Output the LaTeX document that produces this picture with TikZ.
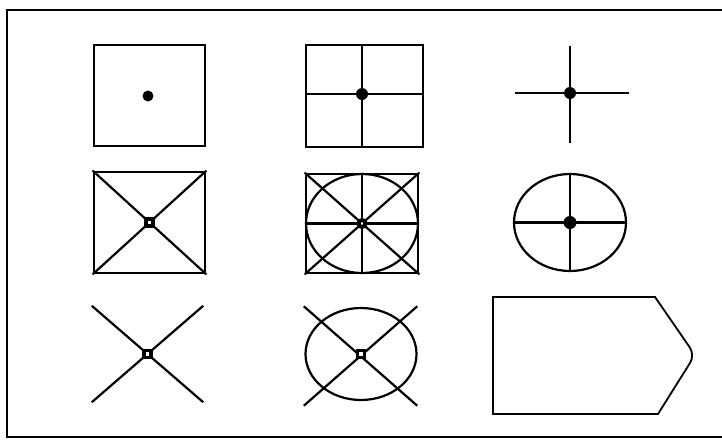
\documentclass[tikz,border=0pt]{standalone}
\usetikzlibrary{shapes.geometric}

\tikzset{
  symbox/.style={draw, line width=2.8pt, inner sep=0pt},
  symarea/.style={inner sep=0pt},
  symoval/.style={draw, ellipse, line width=2.2pt, inner sep=0pt},
  spoke/.style={line width=2.2pt},
  hub/.style={fill, circle, inner sep=0pt, minimum size=12pt},
  hubring/.style={draw, circle, line width=4pt, fill=white, inner sep=0pt, minimum size=7pt},
  hubsq/.style={draw, rectangle, line width=3.5pt, fill=white, inner sep=0pt, minimum size=7pt},
}

\begin{document}
\begin{tikzpicture}[x=1pt, y=-1pt]
  \useasboundingbox (0,0) rectangle (722,440);

  % frame, open to the right
  \draw[line width=1.6pt] (722,10) -- (7,10) -- (7,437) -- (722,437);

  % row 1
  \node[symbox, minimum width=111pt, minimum height=101pt] (plain) at (149.5,95.5) {};
  \node[hub, minimum size=11pt] (plainhub) at (148,96) {};

  \node[symbox, minimum width=117pt, minimum height=102pt] (grid) at (364.5,96) {};
  \node[hub] (gridhub) at (362,94) {};
  \draw[spoke] (grid.north -| gridhub) -- (grid.south -| gridhub);
  \draw[spoke] (grid.west |- gridhub) -- (grid.east |- gridhub);

  \node[symarea, minimum width=114pt, minimum height=97pt] (cross) at (572,94.5) {};
  \node[hub] (crosshub) at (570,93) {};
  \draw[spoke] (cross.west |- crosshub) -- (cross.east |- crosshub);
  \draw[spoke] (cross.north -| crosshub) -- (cross.south -| crosshub);

  % row 2
  \node[symbox, minimum width=111pt, minimum height=101pt] (diag) at (149.5,222.5) {};
  \draw[spoke] (diag.north west) -- (diag.south east);
  \draw[spoke] (diag.north east) -- (diag.south west);
  \node[hubsq] (diaghub) at (diag.center) {};

  \node[symbox, minimum width=112pt, minimum height=99pt] (full) at (362,223.5) {};
  \node[symoval, minimum width=112pt, minimum height=99pt] (fulloval) at (full.center) {};
  \draw[spoke] (full.north west) -- (full.south east);
  \draw[spoke] (full.north east) -- (full.south west);
  \draw[spoke] (full.north) -- (full.south);
  \draw[spoke] (full.west) -- (full.east);
  \node[hubring] (fullhub) at (full.center) {};

  \node[symoval, minimum width=112pt, minimum height=97pt] (wheel) at (570,222.5) {};
  \draw[spoke] (wheel.north) -- (wheel.south);
  \draw[spoke] (wheel.west) -- (wheel.east);
  \node[hub, minimum size=13pt] (wheelhub) at (wheel.center) {};

  % row 3
  \node[symarea, minimum width=111pt, minimum height=96pt] (xonly) at (147.5,354) {};
  \draw[spoke] (xonly.north west) -- (xonly.south east);
  \draw[spoke] (xonly.north east) -- (xonly.south west);
  \node[hubsq] (xonlyhub) at (xonly.center) {};

  \node[symarea, minimum width=113pt, minimum height=99pt] (xring) at (360.5,356) {};
  \node[symoval, minimum width=111pt, minimum height=92pt] (xringoval) at (361,354) {};
  \draw[spoke] (xring.north west) -- (xring.south east);
  \draw[spoke] (xring.north east) -- (xring.south west);
  \node[hubsq] (xringhub) at (xringoval.center) {};

  \draw[line width=1.8pt] (493,297) -- (655,297)
    [rounded corners=9pt] -- (695,355) [sharp corners] -- (658,414)
    -- (493,414) -- cycle;
\end{tikzpicture}
\end{document}
